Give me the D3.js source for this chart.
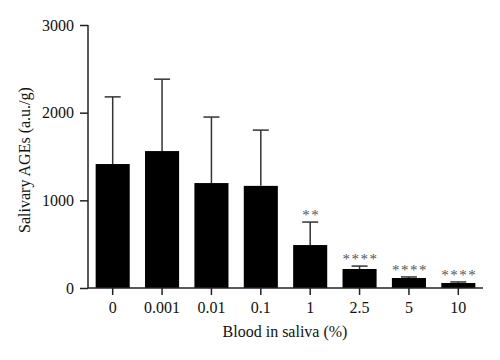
<!DOCTYPE html>
<html><head><meta charset="utf-8">
<script src="https://cdn.jsdelivr.net/npm/d3@7"></script>
<style>body{margin:0;background:#fff}svg{display:block}</style>
</head><body>
<svg id="c" width="500" height="360"></svg>
<script>
const categories = ["0","0.001","0.01","0.1","1","2.5","5","10"];
const means = [1414, 1562, 1197, 1165, 490, 217, 114, 57];
const errors = [766, 820, 753, 636, 262, 33, 12, 12];
const stars = ["", "", "", "", "**", "****", "****", "****"];
const yTicks = [0, 1000, 2000, 3000];

const svg = d3.select("#c");
const font = "'Liberation Serif','Times New Roman',serif";
const x = d3.scaleBand().domain(categories).range([88, 483]).paddingInner(0.31).paddingOuter(0.155);
const y = d3.scaleLinear().domain([0, 3000]).range([288, 25]);

// bars
svg.append("g").selectAll("rect").data(categories).join("rect")
  .attr("x", d => x(d)).attr("width", x.bandwidth())
  .attr("y", (d,i) => y(means[i])).attr("height", (d,i) => y(0) - y(means[i]))
  .attr("fill", "#000");

// error bars
const eb = svg.append("g").attr("stroke", "#333").attr("stroke-width", 1.5);
categories.forEach((c, i) => {
  const cx = x(c) + x.bandwidth()/2;
  eb.append("line").attr("x1", cx).attr("x2", cx).attr("y1", y(means[i])).attr("y2", y(means[i] + errors[i]));
  eb.append("line").attr("x1", cx - 8).attr("x2", cx + 8).attr("y1", y(means[i] + errors[i])).attr("y2", y(means[i] + errors[i]));
});

// significance stars
svg.append("g").selectAll("text").data(categories).join("text")
  .attr("x", d => x(d) + x.bandwidth()/2 + 1)
  .attr("y", (d,i) => y(means[i] + errors[i]) - 2)
  .attr("text-anchor", "middle")
  .attr("font-family", font).attr("font-size", 15).attr("letter-spacing", 1.5)
  .attr("fill", "#555")
  .text((d,i) => stars[i]);

// axes
const yAxis = svg.append("g").attr("transform", "translate(88,0)")
  .call(d3.axisLeft(y).tickValues(yTicks).tickSize(8).tickPadding(6).tickFormat(d3.format("d")));
const xAxis = svg.append("g").attr("transform", "translate(0,288)")
  .call(d3.axisBottom(x).tickSize(7).tickPadding(7).tickSizeOuter(0));
[yAxis, xAxis].forEach(a => {
  a.select(".domain").attr("stroke", "#222").attr("stroke-width", 1.5);
  a.selectAll(".tick line").attr("stroke", "#222").attr("stroke-width", 1.5);
  a.selectAll("text").attr("font-family", font).attr("font-size", 16).attr("fill", "#111");
});
yAxis.select(".domain").attr("d", "M0,25V288");
xAxis.select(".domain").attr("d", "M88,0H483");

// titles
svg.append("text").attr("x", 285).attr("y", 337).attr("text-anchor", "middle")
  .attr("font-family", font).attr("font-size", 16).attr("fill", "#111")
  .text("Blood in saliva (%)");
svg.append("text").attr("transform", "translate(30,160) rotate(-90)").attr("text-anchor", "middle")
  .attr("font-family", font).attr("font-size", 16).attr("fill", "#111")
  .text("Salivary AGEs (a.u./g)");
</script>
</body></html>
